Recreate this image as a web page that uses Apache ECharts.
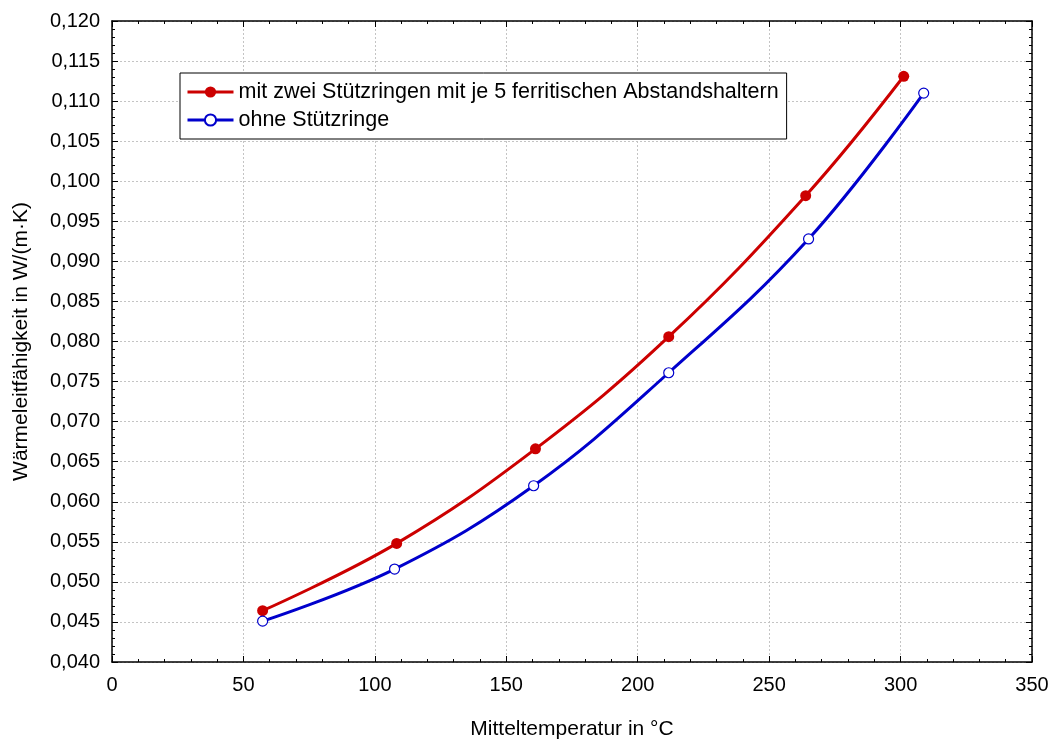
<!DOCTYPE html>
<html lang="de">
  <head>
    <meta charset="UTF-8" />
    <title>Wärmeleitfähigkeit</title>
    <script src="https://cdn.jsdelivr.net/npm/echarts@6/dist/echarts.min.js"></script>
    <style>
      body { margin: 0; background: #fff; }
      #chart { width: 1053px; height: 740px; }
    </style>
  </head>
  <body>
    <div id="chart"></div>
  </body>
</html>
<script>
  const mitRingenT = [57.3, 108.3, 161.1, 211.8, 263.9, 301.2];
  const mitRingenLambda = [0.0464, 0.0548, 0.0666, 0.0806, 0.0982, 0.1131];
  const ohneRingeT = [57.3, 107.5, 160.4, 211.8, 265.0, 308.8];
  const ohneRingeLambda = [0.0451, 0.0516, 0.0620, 0.0761, 0.0928, 0.1110];
  const serienNamen = [
    "mit zwei Stützringen mit je 5 ferritischen Abstandshaltern",
    "ohne Stützringe",
  ];

  const font = "Liberation Sans, Arial, sans-serif";
  const paare = (xs, ys) => xs.map((x, i) => [x, ys[i]]);
  const komma = (v) => v.toFixed(3).replace(".", ",");

  const chart = echarts.init(document.getElementById("chart"));

  // obere / rechte Rahmenachse nur mit Ticks
  const boxAxis = {
    axisLine: { show: true, onZero: false, lineStyle: { color: "#000", width: 1.5 } },
    axisTick: { show: true, inside: true, length: 6, lineStyle: { color: "#000" } },
    minorTick: { show: true, splitNumber: 5, length: 3, lineStyle: { color: "#000" } },
    axisLabel: { show: false },
    splitLine: { show: false },
  };

  const option = {
    animation: false,
    grid: { left: 112, right: 21, top: 21, bottom: 78, outerBoundsMode: "none" },
    legend: {
      orient: "vertical",
      left: 180,
      top: 73,
      padding: [8, 8, 8, 6],
      itemGap: 6,
      itemWidth: 46,
      itemHeight: 14,
      borderColor: "#000",
      borderWidth: 1,
      borderRadius: 0,
      backgroundColor: "#fff",
      lineStyle: { width: 3 },
      textStyle: { fontFamily: font, fontSize: 21.5, color: "#000" },
      data: serienNamen,
    },
    xAxis: [
      {
        type: "value",
        min: 0,
        max: 350,
        interval: 50,
        name: "Mitteltemperatur in °C",
        nameLocation: "middle",
        nameGap: 57,
        nameTextStyle: { fontFamily: font, fontSize: 21, color: "#000" },
        axisLine: { show: true, onZero: false, lineStyle: { color: "#000", width: 1.5 } },
        axisTick: { inside: true, length: 6, lineStyle: { color: "#000" } },
        minorTick: { show: true, splitNumber: 5, length: 3, lineStyle: { color: "#000" } },
        axisLabel: { margin: 13, fontFamily: font, fontSize: 20, color: "#000" },
        splitLine: { show: true, lineStyle: { color: "#c4c4c4", type: [2, 2], width: 1 } },
      },
      Object.assign({ type: "value", position: "top", min: 0, max: 350, interval: 50 }, boxAxis),
    ],
    yAxis: [
      {
        type: "value",
        min: 0.04,
        max: 0.12,
        interval: 0.005,
        name: "Wärmeleitfähigkeit in W/(m·K)",
        nameLocation: "middle",
        nameGap: 80,
        nameTextStyle: { fontFamily: font, fontSize: 21, color: "#000" },
        axisLine: { show: true, onZero: false, lineStyle: { color: "#000", width: 1.5 } },
        axisTick: { inside: true, length: 6, lineStyle: { color: "#000" } },
        minorTick: { show: true, splitNumber: 5, length: 3, lineStyle: { color: "#000" } },
        axisLabel: {
          margin: 12,
          fontFamily: font,
          fontSize: 20,
          color: "#000",
          formatter: komma,
        },
        splitLine: { show: true, lineStyle: { color: "#c4c4c4", type: [2, 2], width: 1 } },
      },
      Object.assign({ type: "value", position: "right", min: 0.04, max: 0.12, interval: 0.005 }, boxAxis),
    ],
    series: [
      {
        name: serienNamen[0],
        type: "line",
        smooth: 0.4,
        data: paare(mitRingenT, mitRingenLambda),
        symbol: "circle",
        symbolSize: 11,
        itemStyle: { color: "#cc0000" },
        lineStyle: { color: "#cc0000", width: 3 },
      },
      {
        name: serienNamen[1],
        type: "line",
        smooth: 0.4,
        data: paare(ohneRingeT, ohneRingeLambda),
        symbol: "circle",
        symbolSize: 10,
        itemStyle: { color: "#fff", borderColor: "#0000cc", borderWidth: 1.2 },
        lineStyle: { color: "#0000cc", width: 3 },
      },
    ],
  };
  chart.setOption(option);
</script>
